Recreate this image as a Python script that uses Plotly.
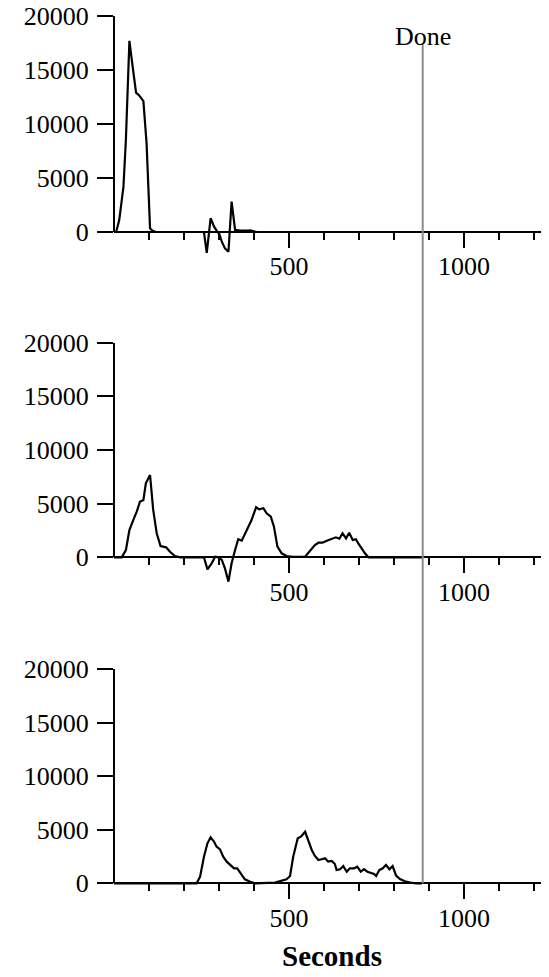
import plotly.graph_objects as go

# ---------------- data ----------------
run1_t = [0, 6, 15, 27, 34, 44, 53, 63, 72, 84, 93, 103, 110, 120, 257, 265, 276, 286, 295, 301,
          308, 317, 327, 336, 346, 360, 384, 389, 408, 880]
run1_v = [0, 0, 1100, 4200, 8560, 17700, 15380, 12900, 12650, 12120, 8250, 340, 120, 0, 0, -1925,
          1270, 490, 30, -190, -900, -1520, -1830, 2820, 190, 120, 120, 150, 0, 0]

run2_t = [0, 22, 34, 44, 55, 65, 74, 84, 91, 103, 112, 122, 133, 149, 160, 174, 189, 257, 267, 279,
          289, 298, 308, 317, 327, 336, 346, 355, 365, 379, 393, 406, 415, 427, 436, 448, 457, 467,
          479, 493, 512, 546, 555, 565, 574, 584, 596, 608, 622, 634, 644, 653, 663, 672, 682, 691,
          698, 708, 717, 727, 880]
run2_v = [0, 0, 680, 2540, 3470, 4250, 5180, 5340, 6900, 7670, 4410, 2240, 1050, 930, 520, 120, 0,
          0, -1120, -560, 60, 0, -250, -1030, -2270, -560, 680, 1680, 1550, 2540, 3470, 4660, 4470,
          4570, 4100, 3780, 2850, 990, 370, 120, 50, 60, 430, 745, 1150, 1360, 1360, 1550, 1700,
          1860, 1730, 2240, 1770, 2290, 1610, 1680, 1300, 745, 370, 0, 0]

run3_t = [0, 236, 246, 257, 267, 276, 286, 293, 303, 312, 322, 333, 343, 352, 362, 374, 389, 403,
          460, 474, 484, 493, 503, 512, 525, 534, 546, 555, 565, 574, 584, 593, 603, 612, 622, 631,
          636, 646, 655, 665, 674, 686, 695, 705, 714, 724, 733, 743, 749, 758, 768, 777, 787, 796,
          806, 817, 831, 846, 865, 880]
run3_v = [0, 0, 620, 2480, 3730, 4290, 3880, 3420, 3170, 2480, 2020, 1710, 1400, 1400, 930, 370,
          150, 0, 60, 210, 250, 370, 680, 2480, 4200, 4350, 4810, 4040, 3110, 2550, 2170, 2240,
          2330, 2020, 2080, 1800, 1240, 1310, 1610, 1080, 1400, 1400, 1550, 1080, 1330, 1080, 990,
          870, 680, 1240, 1400, 1710, 1310, 1610, 710, 400, 190, 60, 0, 0]

series_t = [run1_t, run2_t, run3_t]
series_v = [run1_v, run2_v, run3_v]

done_time = 882
done_label = "Done"
x_title = "Seconds"
y_tickvals = [0, 5000, 10000, 15000, 20000]
x_tickvals = [500, 1000]
x_minor_ticks = [100, 200, 300, 400, 600, 700, 800, 900, 1100, 1200]

# ---------------- layout geometry ----------------
PAGE_W, PAGE_H = 549, 977
OFF = 8                      # default body margin of the html page
W, H = PAGE_W - OFF, PAGE_H - OFF
ML = 114 - OFF
PX_PER_S = 0.35
x_max = (W - ML) / PX_PER_S
panel_top_px = [16, 342.7, 669]      # page pixels of y = 20000
panel_zero_px = [232, 557.3, 883.3]  # page pixels of y = 0
Y_TOP = 20000
Y_BELOW = 3000
FONT = "Liberation Serif"


def frac(px):
    return 1 - (px - OFF) / H


fig = go.Figure()
layout = dict(
    width=W, height=H,
    margin=dict(l=ML, r=0, t=0, b=0, pad=0),
    paper_bgcolor="white", plot_bgcolor="rgba(0,0,0,0)",
    showlegend=False,
    font=dict(family=FONT, size=26, color="black"),
)
shapes = []
annotations = []

for i in range(3):
    n = "" if i == 0 else str(i + 1)
    top, zero = panel_top_px[i], panel_zero_px[i]
    scale = (zero - top) / Y_TOP
    bottom_px = zero + Y_BELOW * scale
    fig.add_trace(go.Scatter(
        x=series_t[i], y=series_v[i], mode="lines",
        line=dict(color="black", width=2.2),
        xaxis="x" + n, yaxis="y" + n, hoverinfo="skip",
    ))
    layout["xaxis" + n] = dict(
        domain=[0, 1], range=[0, x_max], anchor="free", position=frac(zero),
        automargin=False, ticklabeloverflow="allow",
        showgrid=False, zeroline=False, showline=True, linecolor="black", linewidth=2,
        ticks="outside", ticklen=15, tickwidth=2, tickcolor="black",
        tickvals=x_tickvals, ticktext=[str(v) for v in x_tickvals],
        tickfont=dict(family=FONT, size=26, color="black"),
        ticklabelstandoff=-4,
        minor=dict(tickvals=x_minor_ticks, ticks="outside", ticklen=7, tickwidth=2, tickcolor="black"),
    )
    layout["yaxis" + n] = dict(
        domain=[frac(bottom_px), frac(top)], range=[-Y_BELOW, Y_TOP], anchor="x" + n,
        automargin=False, ticklabeloverflow="allow",
        showgrid=False, zeroline=False, showline=False,
        ticks="outside", ticklen=16, tickwidth=2, tickcolor="black",
        tickvals=y_tickvals, ticktext=[str(v) for v in y_tickvals],
        tickfont=dict(family=FONT, size=26, color="black"),
        ticklabelstandoff=3,
    )
    shapes.append(dict(type="line", xref="paper", x0=0, x1=0, yref="y" + n, y0=0, y1=Y_TOP,
                       line=dict(color="black", width=2), layer="above"))

shapes.append(dict(type="line", xref="x", x0=done_time, x1=done_time, yref="paper",
                   y0=frac(panel_zero_px[2]), y1=frac(45),
                   line=dict(color="#8c8c8c", width=2), layer="above"))
annotations.append(dict(text=done_label, xref="x", x=done_time, yref="paper", y=frac(37),
                        xanchor="center", yanchor="middle", showarrow=False,
                        font=dict(family=FONT, size=26, color="black")))
annotations.append(dict(text=x_title, xref="paper", x=0.5, yref="paper", y=frac(956),
                        xanchor="center", yanchor="middle", showarrow=False,
                        font=dict(family=FONT, size=29, color="black", weight="bold")))

layout["shapes"] = shapes
layout["annotations"] = annotations
fig.update_layout(**layout)
fig.write_html("out.html")
